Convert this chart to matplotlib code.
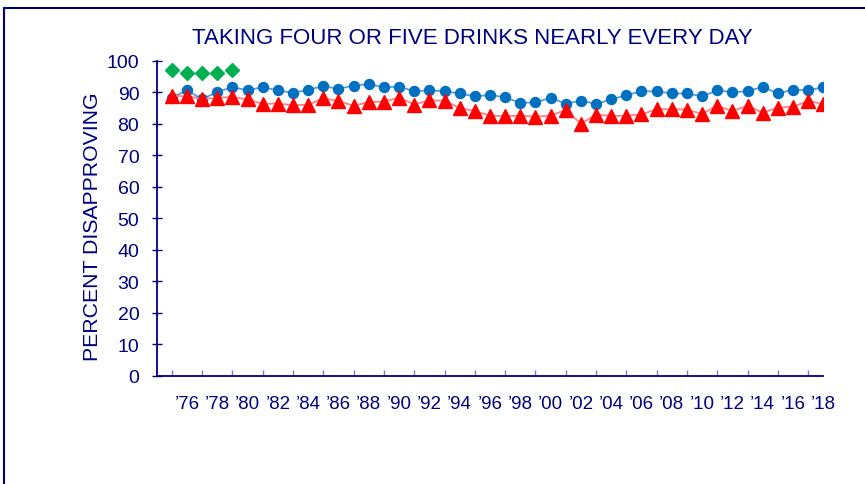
import numpy as np
import matplotlib
matplotlib.use("Agg")
import matplotlib.pyplot as plt
from matplotlib.patches import Rectangle
from matplotlib.ticker import FixedLocator

NAVY = "#000080"

years = list(range(1975, 2019))

# percent disapproving, one value per survey year
blue_pct = [88.3, 90.6, 87.8, 90.1, 91.6, 90.6, 91.6, 90.6, 89.8, 90.8,
            91.9, 91.1, 92.1, 92.6, 91.5, 91.8, 90.3, 90.6, 90.3, 89.6,
            88.7, 89.1, 88.4, 86.6, 86.8, 88.2, 86.4, 87.3, 86.3, 87.7,
            89.1, 90.3, 90.3, 89.6, 89.6, 88.7, 90.6, 90.0, 90.3, 91.7,
            89.6, 90.8, 90.6, 91.6]
red_pct = [88.9, 88.7, 87.9, 88.2, 88.5, 87.7, 86.3, 86.4, 85.9, 86.0,
           88.1, 87.2, 85.7, 86.9, 87.0, 88.3, 86.1, 87.4, 87.3, 85.0,
           84.0, 82.6, 82.4, 82.6, 82.2, 82.6, 84.4, 80.0, 82.9, 82.5,
           82.5, 83.0, 84.6, 84.6, 84.5, 83.1, 85.7, 84.0, 85.7, 83.5,
           85.1, 85.4, 87.2, 86.3]
green_years = [1975, 1976, 1977, 1978, 1979]
green_pct = [96.9, 96.2, 96.2, 96.0, 97.2]

label_years = list(range(1976, 2019, 2))
label_text = ["\u2019%02d" % (y % 100) for y in label_years]

plt.rcParams["font.family"] = ["Liberation Sans", "DejaVu Sans"]

fig = plt.figure(figsize=(8.65, 4.85), dpi=100)
ax = fig.add_axes([0.1811, 0.2227, 0.7707, 0.6501])

ax.plot(years, blue_pct, color="#5B9BD5", lw=1.3, marker="o", ms=7.2,
        mfc="#0070C0", mec="#0070C0", zorder=3)
ax.plot(years, red_pct, color="#FF8080", lw=1.3, marker="^", ms=9.8,
        mfc="#FF0000", mec="#FF0000", zorder=4)
ax.plot(green_years, green_pct, ls="none", marker="D", ms=7.5,
        mfc="#00B050", mec="#00B050", zorder=5)

ax.set_xlim(1974, 2018)
ax.set_ylim(0, 100)
ax.set_yticks(np.arange(0, 101, 10))
ax.set_xticks(label_years)
ax.set_xticklabels(label_text)
ax.xaxis.set_minor_locator(FixedLocator(range(1975, 2018)))

for side in ("top", "right"):
    ax.spines[side].set_visible(False)
for side in ("left", "bottom"):
    ax.spines[side].set_color(NAVY)
    ax.spines[side].set_linewidth(1.3)

ax.tick_params(axis="y", direction="inout", length=7, width=1, color=NAVY,
               labelcolor=NAVY, labelsize=14, pad=9)
ax.tick_params(axis="x", which="major", length=0, labelcolor=NAVY,
               labelsize=13.5, pad=14)
ax.tick_params(axis="x", which="minor", direction="in", length=4, width=1,
               color="#8080C0")

fig.text(0.546, 0.921, "TAKING FOUR OR FIVE DRINKS NEARLY EVERY DAY",
         ha="center", va="center", color=NAVY, fontsize=16)
fig.text(0.1075, 0.532, "PERCENT DISAPPROVING", rotation=90,
         ha="center", va="center", color=NAVY, fontsize=15.3)

# frame around the whole slide, running off the right and bottom edges
fig.patches.append(Rectangle((4 / 865, -0.1), 1.2, 1.1 - 8.5 / 485,
                             transform=fig.transFigure, fill=False,
                             edgecolor=NAVY, lw=1.5))

fig.savefig("out.png", dpi=100)
